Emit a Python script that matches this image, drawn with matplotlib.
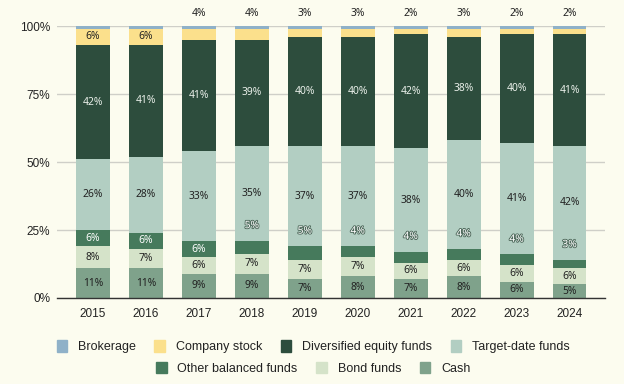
import matplotlib
matplotlib.use("Agg")
import matplotlib.pyplot as plt
import matplotlib.patheffects as pe
from matplotlib.patches import Patch
import numpy as np

years = ["2015", "2016", "2017", "2018", "2019", "2020", "2021", "2022", "2023", "2024"]

# shares in percent, stacked bottom -> top
cash = [11, 11, 9, 9, 7, 8, 7, 8, 6, 5]
bond_funds = [8, 7, 6, 7, 7, 7, 6, 6, 6, 6]
other_balanced = [6, 6, 6, 5, 5, 4, 4, 4, 4, 3]
target_date = [26, 28, 33, 35, 37, 37, 38, 40, 41, 42]
diversified_equity = [42, 41, 41, 39, 40, 40, 42, 38, 40, 41]
company_stock = [6, 6, 4, 4, 3, 3, 2, 3, 2, 2]
brokerage = [1, 1, 1, 1, 1, 1, 1, 1, 1, 1]

bg = "#fcfcef"
colors = {
    "Brokerage": "#8fb1c8",
    "Company stock": "#fbe08c",
    "Diversified equity funds": "#2d4d3d",
    "Target-date funds": "#b2cec2",
    "Other balanced funds": "#467a5c",
    "Bond funds": "#d5e3c9",
    "Cash": "#7fa28b",
}

stack = [
    ("Cash", cash),
    ("Bond funds", bond_funds),
    ("Other balanced funds", other_balanced),
    ("Target-date funds", target_date),
    ("Diversified equity funds", diversified_equity),
    ("Company stock", company_stock),
    ("Brokerage", brokerage),
]

label_font = "Noto Sans"
axis_font = "Liberation Sans"
dark = "#222222"
light = "#e9efe9"
lsize = 7.4

fig = plt.figure(figsize=(6.24, 3.84), dpi=100, facecolor=bg)
ax = fig.add_axes([0.0913, 0.224, 0.8783, 0.708], facecolor=bg)

x = np.arange(len(years))
width = 0.64
bottom = np.zeros(len(years))
tops = {}
for name, vals in stack:
    vals = np.array(vals, dtype=float)
    ax.bar(x, vals, width, bottom=bottom, color=colors[name], zorder=3, linewidth=0)
    tops[name] = (bottom.copy(), bottom + vals)
    bottom = bottom + vals

# data labels
for i in range(len(years)):
    for name, col in [("Cash", dark), ("Bond funds", dark), ("Target-date funds", dark),
                      ("Diversified equity funds", light)]:
        b, t = tops[name]
        v = t[i] - b[i]
        ax.text(x[i], (b[i] + t[i]) / 2, f"{v:.0f}%", ha="center", va="center",
                fontsize=lsize, color=col, family=label_font, zorder=5)

    # other balanced: inside if tall enough, else just above in target-date area
    b, t = tops["Other balanced funds"]
    v = t[i] - b[i]
    if i < 3:
        ax.text(x[i], (b[i] + t[i]) / 2, f"{v:.0f}%", ha="center", va="center",
                fontsize=lsize, color="white", family=label_font, zorder=5)
    else:
        ax.text(x[i], t[i] + 5.6, f"{v:.0f}%", ha="center", va="center",
                fontsize=lsize, color="white", family=label_font, zorder=5,
                path_effects=[pe.withStroke(linewidth=1.3, foreground="#4f6a5c")])

    # company stock: inside for big ones, above bar otherwise
    b, t = tops["Company stock"]
    v = t[i] - b[i]
    if v >= 5:
        ax.text(x[i], (b[i] + t[i]) / 2, f"{v:.0f}%", ha="center", va="center",
                fontsize=lsize, color=dark, family=label_font, zorder=5)
    else:
        ax.text(x[i], 104.8, f"{v:.0f}%", ha="center", va="center",
                fontsize=lsize, color=dark, family=label_font, zorder=5, clip_on=False)

ax.set_xlim(-0.68, 9.67)
ax.set_ylim(0, 100)
ax.set_xticks(x)
ax.set_xticklabels(years, family=axis_font, fontsize=8.5, color=dark)
ax.set_yticks([0, 25, 50, 75, 100])
ax.set_yticklabels(["0%", "25%", "50%", "75%", "100%"], family=axis_font, fontsize=8.5, color=dark)
ax.tick_params(length=0, pad=5)
ax.tick_params(axis="x", pad=7)
ax.grid(axis="y", color="#cfcfc8", linewidth=1, zorder=0)
for s in ["top", "right", "left"]:
    ax.spines[s].set_visible(False)
ax.spines["bottom"].set_color("#333333")
ax.spines["bottom"].set_linewidth(1)
ax.spines["bottom"].set_zorder(4)

row1 = ["Brokerage", "Company stock", "Diversified equity funds", "Target-date funds"]
row2 = ["Other balanced funds", "Bond funds", "Cash"]
legend_kw = dict(frameon=False, handlelength=0.85, handleheight=1.0, handletextpad=0.85,
                 columnspacing=1.5, prop={"family": axis_font, "size": 9}, labelcolor=dark,
                 borderpad=0, borderaxespad=0)
fig.legend([Patch(color=colors[n]) for n in row1], row1, ncol=4,
           loc="center", bbox_to_anchor=(0.502, 0.097), **legend_kw)
fig.legend([Patch(color=colors[n]) for n in row2], row2, ncol=3,
           loc="center", bbox_to_anchor=(0.502, 0.040), **legend_kw)

fig.savefig("out.png", dpi=100, facecolor=bg)
